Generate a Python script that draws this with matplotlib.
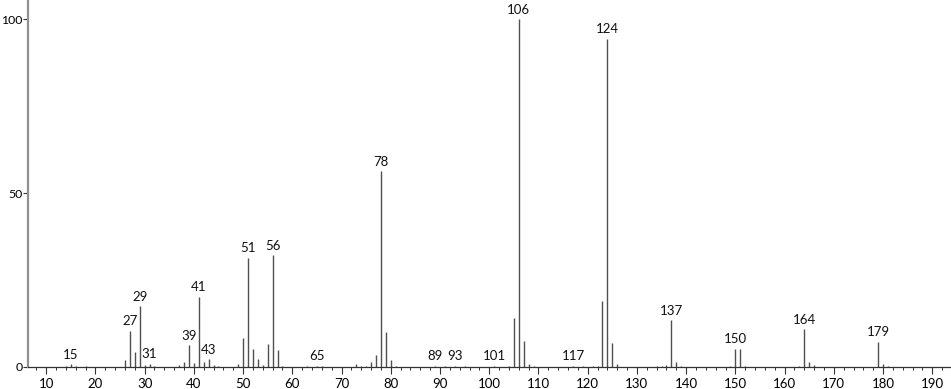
import matplotlib
matplotlib.use('Agg')
import matplotlib.pyplot as plt
from matplotlib.ticker import MultipleLocator

# m/z and relative intensity
MZ = [14, 15, 16, 18, 26, 27, 28, 29, 30, 31, 32, 37, 38, 39, 40, 41, 42, 43, 44, 45,
      49, 50, 51, 52, 53, 54, 55, 56, 57, 58, 63, 65, 66, 73, 74, 75, 76, 77, 78, 79,
      80, 81, 89, 91, 93, 95, 101, 104, 105, 106, 107, 108, 109, 117, 119, 121, 122,
      123, 124, 125, 126, 134, 135, 136, 137, 138, 139, 149, 150, 151, 152, 163, 164,
      165, 166, 179, 180, 181]
INTENSITY = [0.4, 0.8, 0.3, 0.3, 2.0, 10.4, 4.3, 17.5, 0.5, 1.0, 0.3, 0.5, 1.5, 6.2, 1.1,
             20.2, 1.4, 2.3, 0.6, 0.3, 1.0, 8.4, 31.4, 5.3, 2.2, 0.6, 6.6, 32.2, 4.8, 0.4,
             0.3, 0.4, 0.3, 0.9, 0.4, 0.4, 1.4, 3.4, 56.3, 10.1, 1.9, 0.3, 0.3, 0.3, 0.3,
             0.2, 0.3, 0.4, 14.0, 100.0, 7.6, 1.0, 0.3, 0.3, 0.3, 0.3, 0.4, 18.9, 94.3,
             6.8, 1.0, 0.3, 0.4, 0.5, 13.5, 1.4, 0.3, 0.3, 5.2, 5.2, 0.4, 0.3, 10.8, 1.4,
             0.5, 7.2, 1.0, 0.3]
LABELED = [15, 27, 29, 31, 39, 41, 43, 51, 56, 65, 78, 89, 93, 101, 106, 117, 124,
           137, 150, 164, 179]

plt.rcParams['font.family'] = ['Lato', 'DejaVu Sans']

fig = plt.figure(figsize=(9.51, 3.89), dpi=100)
ax = fig.add_axes([0.0294, 0.0566, 0.9706, 0.9434])

ax.vlines(MZ, 0, INTENSITY, color='#505050', linewidth=1.0)

heights = dict(zip(MZ, INTENSITY))
for m in LABELED:
    ax.annotate(str(m), (m, heights[m]), xytext=(0, 2.5), textcoords='offset points',
                ha='center', va='bottom', fontsize=9.5, color='#111111')

ax.set_xlim(6.3, 193.8)
ax.set_ylim(0, 105.5)

ax.xaxis.set_minor_locator(MultipleLocator(2))
ax.set_xticks(range(10, 191, 10))
ax.set_yticks([0, 50, 100])

for s in ['top', 'right']:
    ax.spines[s].set_visible(False)
ax.spines['left'].set_color('#909090')
ax.spines['left'].set_linewidth(1.6)
ax.spines['bottom'].set_color('#333333')
ax.spines['bottom'].set_linewidth(0.9)

ax.tick_params(axis='x', which='major', length=5, width=0.8, color='#333333',
               labelsize=9.5, pad=3)
ax.tick_params(axis='x', which='minor', length=2.5, width=0.7, color='#333333')
ax.tick_params(axis='y', which='major', length=3.5, width=0.8, color='#333333',
               labelsize=8.8, pad=0.5)

plt.savefig('out.png', dpi=100)
